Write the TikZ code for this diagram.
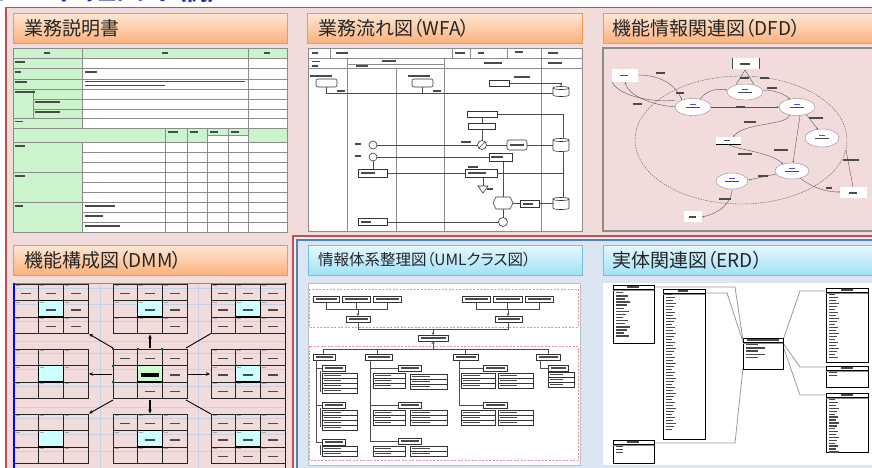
\documentclass[tikz,border=0pt]{standalone}
\usepackage{fontspec}
\newfontfamily\jp[RawFeature=+palt]{Noto Sans CJK JP}
\usetikzlibrary{arrows.meta}
\definecolor{pinkbg}{HTML}{F2DCDB}
\definecolor{redbd}{HTML}{C0504D}
\definecolor{bluebg}{HTML}{DCE6F2}
\definecolor{bluebd}{HTML}{4F81BD}
\definecolor{orT}{HTML}{FDE7D6}
\definecolor{orB}{HTML}{FAB27C}
\definecolor{orbd}{HTML}{F79646}
\definecolor{cyT}{HTML}{E6F8FE}
\definecolor{cyB}{HTML}{A2E1F7}
\definecolor{cybd}{HTML}{6CC2DF}
\definecolor{ttxt}{HTML}{262626}
\definecolor{tgreen}{HTML}{CCF4CC}
\definecolor{frm}{HTML}{8C8C8C}
\definecolor{blobc}{HTML}{4A4A4A}
\definecolor{hcyan}{HTML}{CCFFFF}
\definecolor{hgreen}{HTML}{CCFFCC}
\definecolor{lgrid}{HTML}{C3D3E6}
\definecolor{umlpink}{HTML}{EE8FA0}
\definecolor{conn}{HTML}{9A9A9A}
\definecolor{topblue}{HTML}{2A2AA8}
\newcommand{\txb}[3]{\fill[blob] (#1,#2) rectangle ++(#3,1.5);}
\newcommand{\wfcyl}[4]{%
 \filldraw[wf] (#1,{#2+2}) -- (#1,{#2+#4-2}) .. controls (#1,{#2+#4}) and ({#1+#3},{#2+#4}) .. ({#1+#3},{#2+#4-2}) -- ({#1+#3},{#2+2}) .. controls ({#1+#3},{#2}) and (#1,{#2}) .. (#1,{#2+2}) -- cycle;
 \draw[wf] (#1,{#2+2}) .. controls (#1,{#2+4}) and ({#1+#3},{#2+4}) .. ({#1+#3},{#2+2});}
\newcommand{\attrs}[4]{\foreach \k in {1,...,#4}{\draw[ub] (#1,{#2+(\k-1)*5}) rectangle (#3,{#2+\k*5}); \fill[blob] ({#1+1.5},{#2+(\k-1)*5+1.8}) rectangle ++({(#3-#1)*0.5},1.4);}}
\newcommand{\ubox}[4]{\draw[ub] (#1,#2) rectangle (#3,#4); \fill[blob] ({#1+2.5},{(#2+#4)/2-0.8}) rectangle ({#3-2.5},{(#2+#4)/2+0.8});}
\newcommand{\ent}[4]{\filldraw[fill=white,draw=black,line width=0.7pt] (#1,#2) rectangle (#3,#4); \draw[black,line width=0.5pt] (#1,{#2+4}) -- (#3,{#2+4}); \draw[black!45,line width=0.4pt] (#1,{#2+5}) -- (#3,{#2+5});}
\newcommand{\dcell}[4]{\fill[blob] ({#1+#3*24.67+7.3},{#2+#4*16.5+8.5}) rectangle ++(10,1.5);}
\begin{document}
\begin{tikzpicture}[x=1pt,y=-1pt,
  obar/.style={draw=orbd,line width=0.8pt,top color=orT,bottom color=orB},
  cbar/.style={draw=cybd,line width=0.8pt,top color=cyT,bottom color=cyB},
  ttl/.style={anchor=west,inner sep=0pt,font=\jp\fontsize{19}{19}\selectfont,text=ttxt},
  tl/.style={draw=frm,line width=0.8pt},
  blob/.style={fill=blobc},
  wf/.style={draw=black!80,fill=white,line width=0.6pt},
  wl/.style={draw=black!70,line width=0.5pt},
  dfl/.style={draw=black!65,line width=0.4pt},
  dmm/.style={draw=black!85,line width=1pt},
  dar/.style={draw=black,line width=0.9pt,-{Stealth[length=4pt,width=3.5pt]}},
  ub/.style={draw=black!80,fill=white,line width=0.5pt},
  ul/.style={draw=black!70,line width=0.5pt},
  cn/.style={draw=conn,line width=0.8pt}]
\useasboundingbox (0,0) rectangle (872,467);
\clip (0,0) rectangle (872,467);
\fill[white] (0,0) rectangle (872,467);
% heading (cut off at the top)
\node[anchor=base west,inner sep=0pt,font=\jp\bfseries\fontsize{22}{22}\selectfont,text=topblue] (hdr) at (30,0.5) {EAドキュメント（例）};
\node[anchor=base east,inner sep=0pt,font=\jp\bfseries\fontsize{22}{22}\selectfont,text=topblue] (hdrb) at (6,0.5) {■};
% panels
\filldraw[fill=pinkbg,draw=redbd,line width=1.2pt] (6,7.5) rectangle (900,500);
\filldraw[fill=pinkbg!50!white,draw=redbd,line width=1.2pt] (293,236) rectangle (900,500);
\filldraw[fill=bluebg,draw=bluebd,line width=1.2pt] (297,240) rectangle (900,500);
% title bars
\path[obar] (13,13) rectangle (287,43);
\path[obar] (307,13) rectangle (582,43);
\path[obar] (603,13) rectangle (900,43);
\path[obar] (13,245) rectangle (287,275);
\path[cbar] (308,245) rectangle (582,275);
\path[cbar] (603,245) rectangle (900,275);
\node[ttl] (t1) at (24,28) {業務説明書};
\node[ttl] (t2) at (318,28) {業務流れ図（WFA）};
\node[ttl] (t3) at (612,28) {機能情報関連図（DFD）};
\node[ttl] (t4) at (24,260) {機能構成図（DMM）};
\node[ttl,font=\jp\fontsize{15.5}{15.5}\selectfont] (t5) at (318,260) {情報体系整理図（UMLクラス図）};
\node[ttl] (t6) at (612,260) {実体関連図（ERD）};

% ===== 1: table =====
\fill[white] (13,48) rectangle (287,232);
\fill[tgreen] (13,48) rectangle (287,58);
\fill[tgreen] (13,58) rectangle (82,128);
\fill[tgreen] (13,128) rectangle (287,142);
\fill[white] (207,135) rectangle (248,142);
\fill[tgreen] (13,142) rectangle (82,232);
\foreach \y in {58,68,79,89,118,128,142,172,202} \draw[tl] (13,\y) -- (287,\y);
\foreach \y in {99,109} \draw[tl] (33,\y) -- (287,\y);
\foreach \y in {152,162,182,192,212,222} \draw[tl] (82,\y) -- (287,\y);
\draw[tl] (82,48) -- (82,128) (82,142) -- (82,232) (248,48) -- (248,232) (33,89) -- (33,118) (207,135) -- (248,135);
\foreach \x in {165,187,207,228} \draw[tl] (\x,128) -- (\x,232);
\draw[frm,line width=1pt] (13,48) rectangle (287,232);
\txb{44}{52}{6}\txb{162}{52}{6}\txb{264}{52}{6}
\txb{15}{61}{10}\txb{15}{71}{6}\txb{15}{81}{12}\txb{15}{91}{20}\txb{35}{101}{25}\txb{35}{111}{25}\txb{15}{120.5}{8}
\txb{15}{145}{10}\txb{15}{175}{10}\txb{15}{205}{8}
\txb{85}{71}{12}\txb{85}{80.5}{160}\txb{85}{84.5}{80}
\txb{168}{131}{10}\txb{190}{131}{8}\txb{210}{131}{8}\txb{231}{131}{8}
\txb{85}{205}{30}\txb{85}{215}{18}\txb{85}{225}{35}

% ===== 2: WFA =====
\fill[white] (308,48) rectangle (582,231);
\draw[tl] (308,58) -- (582,58) (308,68) -- (582,68) (347,64) -- (444,64);
\draw[tl] (330,48) -- (330,58) (452,48) -- (452,58) (470,48) -- (470,58) (507,48) -- (507,58);
\draw[tl] (347,58) -- (347,231) (396,68) -- (396,231) (444,58) -- (444,231) (541,48) -- (541,231);
\draw[frm,line width=1pt] (308,48) rectangle (582,231);
\txb{312}{52}{6}\txb{336}{52}{12}\txb{455}{52}{10}\txb{478}{52}{6}\txb{515}{51}{8}\txb{548}{52}{10}
\txb{312}{60.5}{8}\txb{312}{65}{6}\txb{382}{60}{14}\txb{356}{65}{12}\txb{484}{62}{18}\txb{548}{62}{14}
\txb{310}{75}{22}\txb{408}{75}{22}\txb{514}{76}{16}
\draw[wf,rounded corners=2pt] (316,79) rectangle (337,87);
\draw[wf,rounded corners=2pt] (412,79) rectangle (433,87);
\draw[wf] (489,80) rectangle (509,86);
\draw[wl,-{Stealth[length=2pt]}] (509,83) -- (561,83) -- (561,86);
\draw[wl] (326,87) -- (326,93) -- (553,93) (422,87) -- (422,93);
\wfcyl{553}{86}{16}{11}
\txb{337}{90}{8}\txb{433}{90}{8}
\draw[wf] (467,111) rectangle (497,117);
\draw[wf] (468,123) rectangle (495,129);
\draw[wl] (482,117) -- (482,123) (482,129) -- (482,140.5);
\draw[wl] (497,114) -- (563,114) -- (563,138);
\txb{461}{141}{10}\txb{468}{166}{10}\txb{487}{188}{6}\txb{355}{143}{6}\txb{355}{155}{6}
\draw[wl] (377,145) -- (478,145) (486.5,145) -- (507,145) (527,145) -- (553,145);
\draw[wl] (377,157) -- (489,157) (373,161) -- (373,169);
\filldraw[wf] (373,145) circle (4);
\filldraw[wf] (373,157) circle (4);
\filldraw[wf] (482,145) circle (4.5);
\draw[wl] (479,148) -- (485,142);
\draw[wf,rounded corners=2pt] (507,140) rectangle (527,150);
\wfcyl{553}{138}{16}{14}
\draw[wl] (563,152) -- (563,197) (497,173) -- (563,173) (387,173) -- (465,173);
\draw[wl] (503,161) -- (503,197) (503,209) -- (503,217.5) (483,177) -- (483,186);
\draw[wf] (489,153) rectangle (512,161);
\draw[wf] (358,169) rectangle (387,177);
\draw[wf] (465,169) rectangle (497,177);
\filldraw[wf] (478,186) -- (488,186) -- (483,193) -- cycle;
\filldraw[wf] (493,203) -- (496,197) -- (510,197) -- (513,203) -- (510,209) -- (496,209) -- cycle;
\draw[wl] (513,203) -- (520,203) (539,203) -- (553,203) (387,222) -- (498.5,222);
\draw[wf] (520,200) rectangle (539,207);
\wfcyl{553}{197}{16}{13}
\draw[wf] (358,218) rectangle (387,225);
\filldraw[wf] (503,222) circle (4.5);
\txb{361}{172.3}{14}\txb{468}{172.3}{18}\txb{361}{221}{10}\txb{523}{203}{10}\txb{491}{156.3}{12}\txb{510}{144.3}{14}

% ===== 3: DFD =====
\filldraw[fill=pinkbg,draw=frm,line width=1.5pt] (603,48) rectangle (890,231);
\draw[dfl,dash pattern=on 1.5pt off 1pt] (741,140) ellipse [x radius=106,y radius=64];
\fill[white] (612,69) rectangle (638,82);
\fill[white] (732,58) rectangle (759,69);
\draw[black!70,line width=0.8pt] (732,58) -- (732,69) (759,58) -- (759,69);
\fill[white] (840,187) rectangle (867,198);
\fill[white] (684,211) rectangle (702,222);
\fill[white] (716,137) rectangle (741,144);
\draw[black,line width=0.9pt] (716,144.5) -- (741,144.5);
\txb{620}{74.5}{8}\txb{740}{63}{10}\txb{849}{192}{8}\txb{689}{216}{7}\txb{724}{139.5}{6}
\foreach \cx/\cy/\rx/\ry in {745/92/18/8,693/107/18/8.5,797/107/18/8.5,822/138/17/9,792/171/17/8,732/181/16/8}{
  \filldraw[fill=white,draw=black!45,line width=0.4pt] (\cx,\cy) ellipse [x radius=\rx,y radius=\ry];
  \fill[blue!70] ({\cx-3},{\cy-3.5}) rectangle ++(6,1.2);
  \fill[blobc] ({\cx-7},{\cy-0.5}) rectangle ++(14,1.3);}
\draw[dfl,-{Stealth[length=2pt]}] (638,75) .. controls (662,75) and (676,86) .. (682,100);
\draw[dfl,-{Stealth[length=2pt]}] (676,107) .. controls (650,105) and (628,95) .. (625,82);
\draw[dfl,-{Stealth[length=2pt]}] (711,107) -- (779,107);
\draw[dfl,-{Stealth[length=2pt]}] (700,99) .. controls (706,91) and (716,88) .. (727,90);
\draw[dfl,-{Stealth[length=2pt]}] (763,90) .. controls (776,90) and (786,95) .. (790,99.5);
\draw[dfl] (745,70) -- (736,84.5) (745,70) -- (754,84.5);
\draw[dfl,-{Stealth[length=2pt]}] (790,115) .. controls (786,126) and (745,122) .. (733,137);
\draw[dfl,-{Stealth[length=2pt]}] (728,144.5) .. controls (742,151) and (770,152) .. (783,164);
\draw[dfl,-{Stealth[length=2pt]}] (800,115.5) -- (793,163);
\draw[dfl,-{Stealth[length=2pt]}] (806,114) -- (818,129.5);
\draw[dfl,-{Stealth[length=2pt]}] (776,174) -- (748.5,180);
\draw[dfl,-{Stealth[length=2pt]}] (800,178) .. controls (814,189) and (828,192) .. (840,192);
\draw[dfl] (846,150) -- (853,187);
\draw[dfl,-{Stealth[length=2pt]}] (732,189) .. controls (732,205) and (716,214) .. (702,217);
\draw[dfl] (612,82) .. controls (620,98) and (660,103) .. (675,100);
\txb{656}{72}{9}\txb{633}{103}{9}\txb{740}{77}{9}\txb{760}{77}{9}\txb{676}{92}{8}\txb{767}{87}{10}
\txb{736}{106}{9}\txb{744}{121}{12}\txb{738}{153}{14}\txb{774}{149}{14}\txb{809}{117}{14}
\txb{758}{175}{10}\txb{826}{187}{6}\txb{843}{159}{16}\txb{719}{198}{12}

% ===== 4: DMM =====
\fill[pinkbg] (13,283) rectangle (287,470);
\foreach \by in {284,349,414}{\foreach \j in {0,1,2}{\draw[lgrid,line width=0.7pt] (14,{\by+\j*16.5+4}) -- (285,{\by+\j*16.5+4});}}
\foreach \by in {333,399}{\draw[lgrid,line width=0.7pt] (14,{\by+8}) -- (285,{\by+8});}
\foreach \x in {100.5,198.5}{\draw[lgrid,line width=0.7pt] (\x,283) -- (\x,470);}
\foreach \bx/\by in {14/284,113/284,211/284,14/349,211/349,14/414,113/414,211/414}{
  \fill[hcyan] ({\bx+24.67},{\by+16.5}) rectangle ({\bx+49.33},{\by+33});
  \foreach \i in {0,1,2}{\foreach \j in {0,1,2}{\fill[black!35] ({\bx+\i*24.67+1.5},{\by+\j*16.5+1.3}) rectangle ++(4,1);}}}
\fill[hgreen] (137.67,365.5) rectangle (162.33,382);
\foreach \bx/\by in {14/284,113/284,211/284,14/349,113/349,211/349,14/414,113/414,211/414}{
  \foreach \i in {0,1,2,3}{
    \draw[dmm] ({\bx+\i*24.67},\by) -- ({\bx+\i*24.67},{\by+49.5});
    \draw[dmm] (\bx,{\by+\i*16.5}) -- ({\bx+74},{\by+\i*16.5});}}
\foreach \bx/\by in {14/284,113/284,211/284,14/349,211/349,14/414,113/414,211/414}{
  \draw[black,line width=1.6pt] ({\bx+24.67},{\by+16.5}) rectangle ({\bx+49.33},{\by+33});}
\draw[black,line width=1.6pt] (137.67,365.5) rectangle (162.33,382);
\fill[black] (141,372.5) rectangle (159,376.5);
\foreach \bx/\by in {211/284,211/349,211/414}{\foreach \i in {0,1,2}{\foreach \j in {0,1,2}{\dcell{\bx}{\by}{\i}{\j}}}}
\foreach \bx/\by/\i/\j in {14/284/0/0,14/284/1/0,14/284/2/0,14/284/1/1,14/284/2/1,14/284/1/2,14/284/2/2,
  113/284/0/0,113/284/1/0,113/284/2/0,113/284/1/1,113/284/2/1,113/284/2/2,
  113/414/0/0,113/414/1/0,113/414/2/0,113/414/1/1,113/414/2/1,
  113/349/0/0,113/349/1/0,113/349/2/0,113/349/2/1,113/349/1/2,113/349/2/2}{\dcell{\bx}{\by}{\i}{\j}}
\foreach \p in {(113,349),(137.67,349),(162.33,349),(113,365.5),(113,382)}{\fill[green!45!black] \p ++(-1,-1) rectangle ++(2,2);}
\draw[dar] (113,348) -- (89,334);
\draw[dar,line width=1.4pt] (150,348) -- (150,334.5);
\draw[black,line width=0.9pt] (186,348) -- (211,333.5);
\draw[dar] (112,374) -- (89,374);
\draw[dar] (187,374) -- (210,374);
\draw[dar] (113,400) -- (89,413.5);
\draw[dar,line width=1.4pt] (150,400) -- (150,413.5);
\draw[black,line width=0.9pt] (186,400) -- (211,414);
\draw[frm,line width=0.8pt] (13,283) -- (287,283);
\draw[blue,line width=1.2pt] (14,283) -- (14,470) (285.5,283) -- (285.5,470);

% ===== 5: UML =====
\fill[white] (308,283) rectangle (580,465);
\draw[black!25,line width=0.5pt] (308,283) rectangle (580,465);
\draw[umlpink,line width=0.9pt,dash pattern=on 2pt off 1.5pt] (309,289) rectangle (578,327);
\draw[umlpink,line width=0.9pt,dash pattern=on 2pt off 1.5pt] (309,346) rectangle (578,460);
\draw[ul] (326,302) -- (326,309) -- (387,309) -- (387,302) (356,302) -- (356,309);
\draw[ul] (476,302) -- (476,309) -- (539,309) -- (539,302) (507.5,302) -- (507.5,309);
\foreach \a/\b in {313/339,342/370,373/401,462/490,493/522,525/553}{\ubox{\a}{296}{\b}{302}}
\draw[ul,-{Triangle[open,length=2.5pt,width=3pt]}] (358,309) -- (358,316);
\draw[ul,-{Triangle[open,length=2.5pt,width=3pt]}] (508,309) -- (508,316);
\ubox{346}{316}{370}{322}
\ubox{495}{316}{522}{322}
\draw[ul] (358,322) -- (358,329) -- (508,329) -- (508,322);
\draw[ul,-{Triangle[open,length=2.5pt,width=3pt]}] (433,329) -- (433,335);
\ubox{418}{335}{448}{341}
\draw[ul,-{Triangle[open,length=2.5pt,width=3pt]}] (433,349) -- (433,341);
\draw[ul] (323,354) -- (323,349) -- (548,349) -- (548,354) (377,349) -- (377,354) (465,349) -- (465,354);
\ubox{313}{354}{335}{360}\ubox{365}{354}{392}{360}\ubox{453}{354}{478}{360}\ubox{536}{354}{560}{360}
% col 1
\draw[ul] (316,360) -- (316,442) (316,368) -- (322,368) (316,405) -- (322,405) (316,442) -- (322,442);
\draw[ul] (320,371) -- (320,392) (320,408) -- (320,427) (320,445) -- (320,455);
\ubox{322}{365}{345}{371}\attrs{322}{373}{357}{4}
\ubox{322}{402}{345}{408}\attrs{322}{410}{357}{4}
\ubox{322}{439}{345}{445}\attrs{322}{446}{357}{2}
% col 2
\draw[ul] (370,360) -- (370,441) (370,368) -- (398,368) (370,405) -- (398,405) (370,441) -- (398,441);
\ubox{398}{365}{421}{371}\attrs{373}{373}{405}{3}\attrs{410}{374}{447}{3}
\ubox{398}{402}{421}{408}\attrs{373}{410}{405}{3}\attrs{410}{410}{447}{3}
\ubox{398}{438}{421}{444}\attrs{373}{446}{405}{2}\attrs{410}{446}{447}{2}
% col 3
\draw[ul] (459,360) -- (459,405) (459,368) -- (483,368) (459,405) -- (483,405);
\ubox{483}{365}{507}{371}\attrs{461}{373}{495}{3}\attrs{498}{373}{533}{3}
\ubox{483}{402}{507}{408}\attrs{461}{410}{495}{3}\attrs{498}{410}{533}{3}
% col 4
\draw[ul] (540,360) -- (540,368) -- (548,368);
\ubox{548}{365}{568}{371}\attrs{548}{372}{574}{3}

% ===== 6: ERD =====
\fill[white] (603,283) rectangle (890,465);
\draw[cn] (654,287) -- (735,287) -- (743,340);
\draw[cn] (705,293) -- (727,293) -- (743,342);
\draw[cn] (654,443) -- (735,443) -- (743,368);
\draw[cn] (783,340) -- (800,291) -- (826,291);
\draw[cn] (783,343) -- (800,367) -- (826,367);
\draw[cn] (783,346) -- (800,395) -- (826,395);
\ent{613}{285}{654}{343}
\ent{663}{289}{705}{439}
\ent{743}{338}{783}{369}
\ent{826}{288}{868}{362}
\ent{826}{366}{868}{387}
\ent{826}{393}{868}{452}
\ent{613}{440}{654}{463}
\txb{627}{286.3}{12}\txb{678}{290.3}{10}\txb{747}{339.3}{32}\txb{841}{289.3}{12}\txb{841}{367.3}{12}\txb{841}{394.3}{12}\txb{627}{441.3}{12}
\foreach \i in {0,...,14}{\fill[blob] (616,{292+\i*3.1}) rectangle ++({7+mod(\i*5,8)},1.4);}
\foreach \i in {0,...,45}{\fill[blob] (666,{294+\i*3}) rectangle ++({6+mod(\i*3,5)},1.4);}
\foreach \i in {0,...,4}{\fill[blob] (746,{344+\i*3.2}) rectangle ++({12+mod(\i*7,14)},1.4);}
\foreach \i in {0,...,21}{\fill[blob] (829,{294+\i*3}) rectangle ++({6+mod(\i*3,5)},1.4);}
\foreach \i in {0,1}{\fill[blob] (829,{372+\i*3}) rectangle ++(8,1.4);}
\foreach \i in {0,...,18}{\fill[blob] (829,{399+\i*2.9}) rectangle ++({6+mod(\i*3,5)},1.4);}
\foreach \i in {0,1,2}{\fill[blob] (616,{446+\i*3}) rectangle ++(7,1.4);}
\end{tikzpicture}
\end{document}
